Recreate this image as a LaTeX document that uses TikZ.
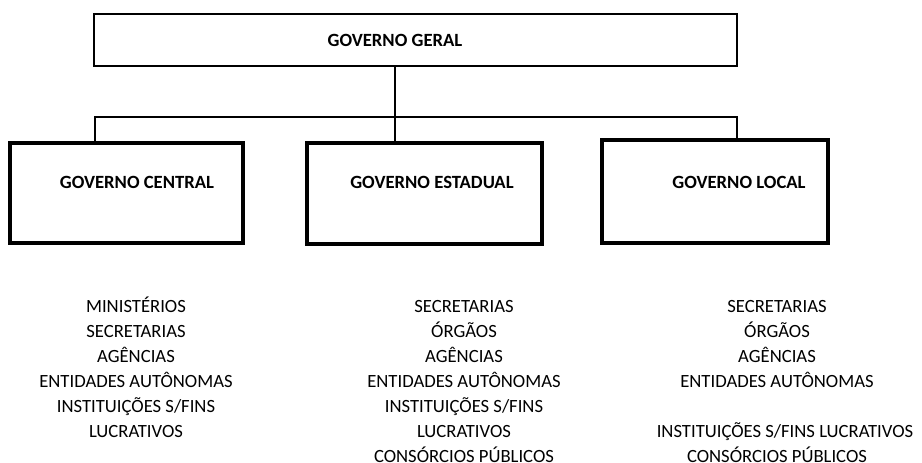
\documentclass[tikz,border=0pt]{standalone}
\usepackage{fontspec}
\setmainfont{Carlito}
\begin{document}
\begin{tikzpicture}[x=0.75pt,y=-0.75pt,
    govbox/.style={draw,line width=2.8pt,minimum width=#1*0.75pt,inner sep=0pt},
    govtitle/.style={font=\fontsize{14}{18}\selectfont\bfseries,inner sep=0pt},
    govlist/.style={font=\fontsize{14}{18.75}\selectfont,align=center,anchor=north,inner sep=0pt}]
      \useasboundingbox (0,0) rectangle (922,462);
      \node[govbox=643,line width=2pt,minimum height=39pt] (gg) at (415.5,40) {};
      \node[govbox=233,minimum height=75pt] (gc) at (126.5,193) {};
      \node[govbox=235,minimum height=75.75pt] (ge) at (424.5,193.5) {};
      \node[govbox=226,minimum height=77.25pt] (gl) at (715,191.5) {};
      \node[govtitle] (ggt) at (395,40) {GOVERNO GERAL};
      \node[govtitle] (gct) at (137,182) {GOVERNO CENTRAL};
      \node[govtitle] (get) at (432,182) {GOVERNO ESTADUAL};
      \node[govtitle] (glt) at (739,182) {GOVERNO LOCAL};
      \coordinate (busl) at (95,117);
      \coordinate (busr) at (737,117);
      \begin{scope}[line width=1.2pt]
        \draw (gg.south -| ggt) -- (ge.north -| ggt);
        \draw (gc.north -| busl) -- (busl) -- (busr) -- (gl.north -| busr);
      \end{scope}
      \node[govlist] (gcl) at (136,297) {\vphantom{ÉÓ}MINISTÉRIOS\\SECRETARIAS\\AGÊNCIAS\\ENTIDADES AUTÔNOMAS\\INSTITUIÇÕES S/FINS\\LUCRATIVOS};
      \node[govlist] (gel) at (464,297) {\vphantom{ÉÓ}SECRETARIAS\\ÓRGÃOS\\AGÊNCIAS\\ENTIDADES AUTÔNOMAS\\INSTITUIÇÕES S/FINS\\LUCRATIVOS\\CONSÓRCIOS PÚBLICOS};
      \node[govlist] (gll) at (777,297) {\vphantom{ÉÓ}SECRETARIAS\\ÓRGÃOS\\AGÊNCIAS\\ENTIDADES AUTÔNOMAS\\[18.75pt]\hspace*{12pt}INSTITUIÇÕES S/FINS LUCRATIVOS\\CONSÓRCIOS PÚBLICOS};
    \end{tikzpicture}
\end{document}
